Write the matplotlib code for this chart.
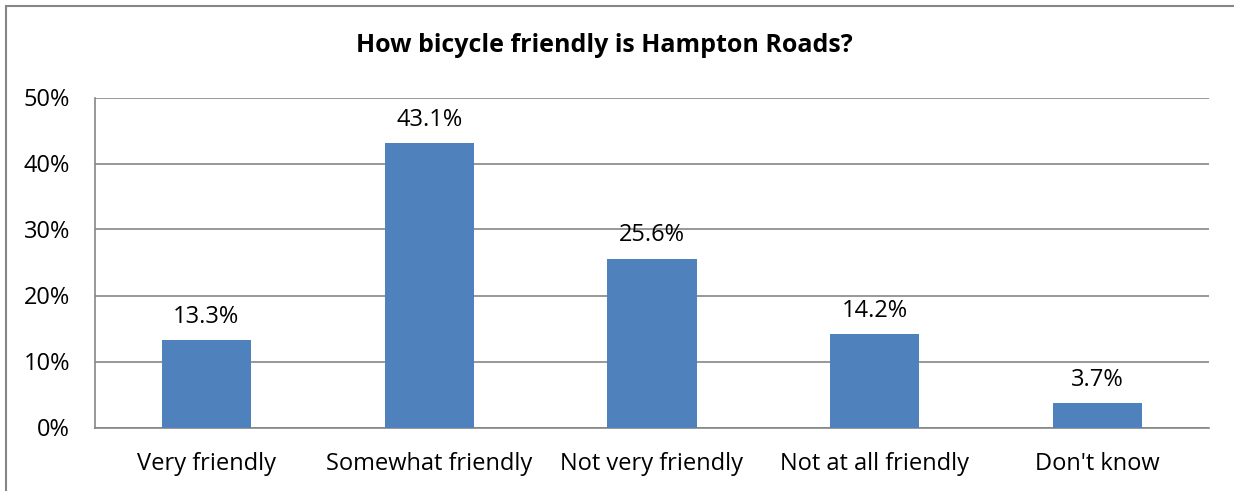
import numpy as np
import matplotlib.pyplot as plt
from matplotlib.patches import Rectangle

categories = ["Very friendly", "Somewhat friendly", "Not very friendly", "Not at all friendly", "Don't know"]
values = [13.3, 43.1, 25.6, 14.2, 3.7]
yticks = [0, 10, 20, 30, 40, 50]
ytick_labels = ["0%", "10%", "20%", "30%", "40%", "50%"]

plt.rcParams['font.family'] = ['Open Sans', 'DejaVu Sans']

fig = plt.figure(figsize=(12.34, 4.91), dpi=100)
W, H = 1234, 491
ax = fig.add_axes([95 / W, 1 - 427.5 / H, (1209 - 95) / W, (427.5 - 97.5) / H])

x = np.arange(len(categories))
bars = ax.bar(x, values, width=0.4, color="#4F81BD", zorder=3)
for xi, v in zip(x, values):
    ax.annotate(f"{v:.1f}%", (xi, v), xytext=(0, 8), textcoords="offset points",
                ha="center", va="bottom", fontsize=17, color="black")

ax.set_xlim(-0.5, len(categories) - 0.5)
ax.set_ylim(0, 50)
ax.set_yticks(yticks)
ax.set_yticklabels(ytick_labels, fontsize=17)
ax.set_xticks(x)
ax.set_xticklabels(categories, fontsize=17)
ax.tick_params(axis="x", length=0, pad=18)
ax.tick_params(axis="y", length=0, pad=18)
ax.grid(axis="y", color="#868686", linewidth=1.2, zorder=0)
for side in ["top", "right"]:
    ax.spines[side].set_visible(False)
for side in ["left", "bottom"]:
    ax.spines[side].set_color("#868686")
    ax.spines[side].set_linewidth(1.2)

fig.text(604 / W, 1 - 46 / H, "How bicycle friendly is Hampton Roads?", ha="center", va="center",
         fontsize=18, fontweight="bold")

fig.patches.append(Rectangle((6 / W, -0.1), 1.2, 1 - 5.5 / H + 0.1, transform=fig.transFigure,
                             fill=False, edgecolor="#868686", linewidth=1.5))

fig.savefig("out.png", dpi=100)
